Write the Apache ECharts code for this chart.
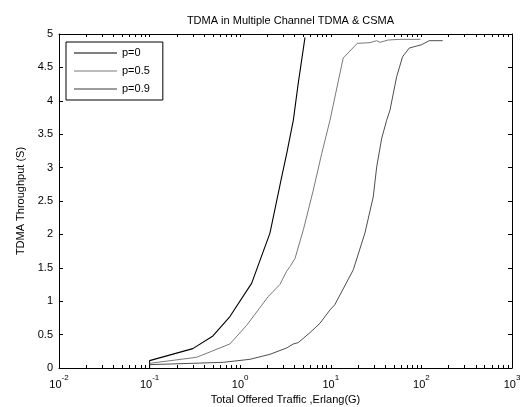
<!DOCTYPE html>
<html>
<head>
<meta charset="utf-8">
<script src="https://cdn.jsdelivr.net/npm/echarts@6/dist/echarts.min.js"></script>
<style>html,body{margin:0;padding:0;background:#fff;}#c{width:527px;height:407px;}</style>
</head>
<body>
<div id="c"></div>
<script>
// ---- data ----
var p0X = [0.1, 0.1, 0.3, 0.5, 0.77, 1.34, 2.13, 2.87, 3.26, 3.86, 4.37, 5.19];
var p0Y = [0, 0.11, 0.29, 0.48, 0.77, 1.27, 2.02, 2.86, 3.21, 3.71, 4.26, 4.95];
var p05X = [0.1, 0.33, 0.77, 1.18, 2.04, 2.74, 3.26, 3.55, 4.03, 4.98, 6.4, 7.94, 9.8, 13.7, 19.6, 27.1, 32.1, 34.9, 43, 58, 97.6];
var p05Y = [0.07, 0.16, 0.36, 0.64, 1.07, 1.25, 1.45, 1.52, 1.64, 2.07, 2.66, 3.21, 3.71, 4.64, 4.86, 4.87, 4.90, 4.875, 4.91, 4.92, 4.92];
var p09X = [0.1, 0.65, 1.28, 2.13, 3.26, 3.86, 4.37, 5.9, 7.6, 9.8, 11.1, 17.7, 23.8, 29.4, 32.1, 36.5, 41.4, 45, 53.3, 62, 73.5, 100.7, 122, 172];
var p09Y = [0.05, 0.085, 0.13, 0.205, 0.3, 0.36, 0.38, 0.53, 0.67, 0.87, 0.95, 1.47, 2.02, 2.56, 3.01, 3.44, 3.71, 3.86, 4.36, 4.66, 4.79, 4.84, 4.90, 4.90];
var seriesNames = ['p=0', 'p=0.5', 'p=0.9'];
var xMin = 0.01, xMax = 1000;
var decadeTicks = [0.01, 0.1, 1, 10, 100, 1000];
var yMin = 0, yMax = 5, yStep = 0.5;
var allTickValues = [];
[0.01, 0.1, 1, 10, 100].forEach(function (d) {
  for (var k = 1; k <= 9; k++) allTickValues.push(+(d * k).toPrecision(3));
});
allTickValues.push(1000);
var titleText = 'TDMA in Multiple Channel TDMA & CSMA';
var xName = 'Total Offered Traffic ,Erlang(G)';
var yName = 'TDMA Throughput (S)';

function pairs(xs, ys) { return xs.map(function (x, i) { return [x, ys[i]]; }); }

var FONT = '"Liberation Sans", Arial, sans-serif';
var chart = echarts.init(document.getElementById('c'), null, {renderer: 'canvas'});

function logAxis(pos, opts) {
  var base = {
    type: 'log', logBase: 10, min: xMin, max: xMax, position: pos, gridIndex: 0,
    splitLine: {show: false}, minorTick: {show: false}, minorSplitLine: {show: false},
    axisLine: {show: true, onZero: false, lineStyle: {color: '#000', width: 1}},
    axisTick: {show: true, inside: true, length: 3, customValues: allTickValues, lineStyle: {color: '#000'}},
    axisLabel: {show: false}
  };
  return Object.assign(base, opts || {});
}

var option = {
  animation: false,
  backgroundColor: '#fff',
  title: {
    text: titleText, left: 285.5, top: 10, textAlign: 'center',
    textStyle: {fontFamily: FONT, fontSize: 11, fontWeight: 'normal', color: '#000'}
  },
  grid: {left: 59, right: 15, top: 34, bottom: 39, containLabel: false, outerBoundsMode: 'none'},
  legend: {
    orient: 'vertical', left: 66, top: 42,
    data: seriesNames, icon: 'rect',
    backgroundColor: '#fff', borderColor: '#000', borderWidth: 1,
    padding: [5, 13, 5, 8], itemWidth: 43, itemHeight: 1, itemGap: 6,
    textStyle: {fontFamily: FONT, fontSize: 11, color: '#000', lineHeight: 12}
  },
  xAxis: [
    logAxis('bottom', {
      name: xName, nameLocation: 'middle', nameGap: 26,
      nameTextStyle: {fontFamily: FONT, fontSize: 11, color: '#000'},
      axisLabel: {
        show: true, margin: 6, color: '#000', customValues: decadeTicks,
        formatter: function (v) {
          var e = Math.round(Math.log10(v));
          return '{b|10}{s|' + e + '}';
        },
        rich: {
          b: {fontFamily: FONT, fontSize: 11, color: '#000', verticalAlign: 'bottom'},
          s: {fontFamily: FONT, fontSize: 8, color: '#000', verticalAlign: 'bottom', padding: [0, 0, 8, 0]}
        }
      }
    }),
    logAxis('top')
  ],
  yAxis: [
    {
      type: 'value', min: yMin, max: yMax, interval: yStep, position: 'left',
      name: yName, nameLocation: 'middle', nameGap: 33,
      nameTextStyle: {fontFamily: FONT, fontSize: 11, color: '#000'},
      splitLine: {show: false},
      axisLine: {show: true, onZero: false, lineStyle: {color: '#000', width: 1}},
      axisTick: {show: true, inside: true, length: 4, lineStyle: {color: '#000'}},
      axisLabel: {show: true, margin: 6, fontFamily: FONT, fontSize: 11, color: '#000'}
    },
    {
      type: 'value', min: yMin, max: yMax, interval: yStep, position: 'right',
      splitLine: {show: false},
      axisLine: {show: true, onZero: false, lineStyle: {color: '#000', width: 1}},
      axisTick: {show: true, inside: true, length: 4, lineStyle: {color: '#000'}},
      axisLabel: {show: false}
    }
  ],
  series: [
    {name: seriesNames[0], type: 'line', data: pairs(p0X, p0Y), symbol: 'none', xAxisIndex: 0, yAxisIndex: 0,
     lineStyle: {color: '#000', width: 1.1}, itemStyle: {color: '#000'}},
    {name: seriesNames[1], type: 'line', data: pairs(p05X, p05Y), symbol: 'none', xAxisIndex: 0, yAxisIndex: 0,
     lineStyle: {color: '#7a7a7a', width: 1}, itemStyle: {color: '#7a7a7a'}},
    {name: seriesNames[2], type: 'line', data: pairs(p09X, p09Y), symbol: 'none', xAxisIndex: 0, yAxisIndex: 0,
     lineStyle: {color: '#3a3a3a', width: 0.9}, itemStyle: {color: '#3a3a3a'}}
  ]
};
chart.setOption(option);
</script>
</body>
</html>
